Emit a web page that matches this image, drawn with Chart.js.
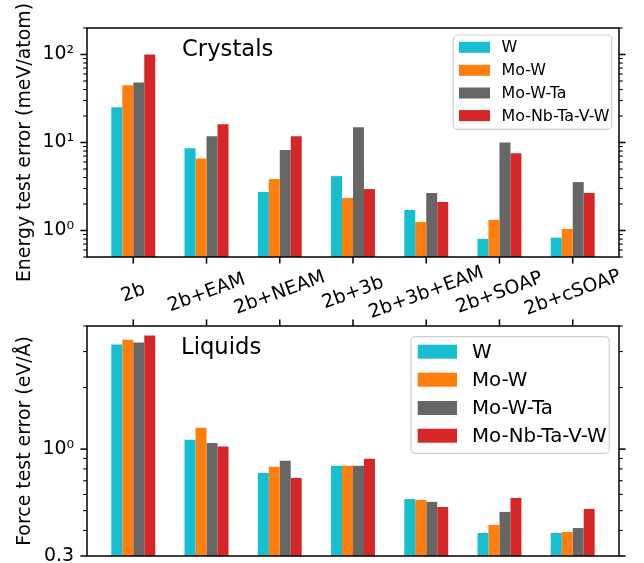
<!DOCTYPE html>
<html><head><meta charset="utf-8">
<script src="https://cdn.jsdelivr.net/npm/chart.js@4.4.0/dist/chart.umd.min.js"></script>
<style>
html,body{margin:0;padding:0;background:#fff;overflow:hidden;width:644px;height:563px;}
canvas{position:absolute;left:0;}
#c1{top:0}
#c2{top:300px}
</style></head><body>
<canvas id="c1" width="644" height="330"></canvas>
<canvas id="c2" width="644" height="280"></canvas>
<script>
// ---- data ----
const categories = ['2b', '2b+EAM', '2b+NEAM', '2b+3b', '2b+3b+EAM', '2b+SOAP', '2b+cSOAP'];
const seriesNames = ['W', 'Mo-W', 'Mo-W-Ta', 'Mo-Nb-Ta-V-W'];
const seriesColors = ['#17becf', '#ff7f0e', '#666666', '#d62728'];

const crystalsW        = [25.1, 8.6, 2.74, 4.15, 1.71, 0.805, 0.83];
const crystalsMoW      = [44.6, 6.6, 3.84, 2.34, 1.25, 1.32, 1.04];
const crystalsMoWTa    = [48.2, 11.8, 8.2, 14.9, 2.67, 10.0, 3.55];
const crystalsMoNbTaVW = [100, 16.1, 11.8, 2.96, 2.11, 7.56, 2.67];

const liquidsW        = [3.25, 1.11, 0.765, 0.828, 0.570, 0.389, 0.389];
const liquidsMoW      = [3.43, 1.27, 0.819, 0.828, 0.564, 0.426, 0.393];
const liquidsMoWTa    = [3.32, 1.07, 0.877, 0.828, 0.552, 0.493, 0.411];
const liquidsMoNbTaVW = [3.59, 1.03, 0.723, 0.897, 0.521, 0.577, 0.510];

const crystalsTickValues = [1, 10, 100];
const crystalsTickLabels = ['10⁰', '10¹', '10²'];
const liquidsTickValues = [0.3, 1];
const liquidsTickLabels = ['0.3', '10⁰'];
const crystalsRange = [0.5, 200];
const liquidsRange = [0.3, 4];

// ---- styling ----
const FONT = '"DejaVu Sans", "Liberation Sans", sans-serif';
const TICK_SIZE = 18.9;

const decoPlugin = {
  id: 'deco',
  afterDatasetsDraw(chart, args, o) {
    const ctx = chart.ctx, a = chart.chartArea, xs = chart.scales.x, ys = chart.scales.y;
    ctx.save();
    ctx.strokeStyle = '#000';
    const line = (x0, y0, x1, y1, w) => { ctx.lineWidth = w; ctx.beginPath(); ctx.moveTo(x0, y0); ctx.lineTo(x1, y1); ctx.stroke(); };
    // frame
    ctx.lineWidth = 1.5;
    ctx.strokeRect(a.left, a.top, a.right - a.left, a.bottom - a.top);
    // y ticks (major + minor, both sides)
    const majors = o.yMajor;
    const minors = [];
    for (let e = Math.floor(Math.log10(ys.min)) ; e <= Math.ceil(Math.log10(ys.max)); e++) {
      for (let m = 1; m < 10; m++) {
        const v = m * Math.pow(10, e);
        if (v >= ys.min * 0.9999 && v <= ys.max * 1.0001 && !majors.some(t => Math.abs(t - v) / v < 1e-6)) minors.push(v);
      }
    }
    majors.forEach(v => { const p = ys.getPixelForValue(v); line(a.left - 6.6, p, a.left, p, 1.5); line(a.right, p, a.right + 6.6, p, 1.5); });
    minors.forEach(v => { const p = ys.getPixelForValue(v); line(a.left - 3.8, p, a.left, p, 1.1); line(a.right, p, a.right + 3.8, p, 1.1); });
    // x ticks
    categories.forEach((c, i) => {
      const p = xs.getPixelForValue(i);
      if (o.xSide === 'bottom') line(p, a.bottom, p, a.bottom + 6.6, 1.5);
      else line(p, a.top - 6.6, p, a.top, 1.5);
    });
    // x labels
    ctx.fillStyle = '#000';
    if (o.xLabels) {
      ctx.font = TICK_SIZE + 'px ' + FONT;
      ctx.textAlign = 'center'; ctx.textBaseline = 'middle';
      categories.forEach((c, i) => {
        const p = xs.getPixelForValue(i);
        ctx.save(); ctx.translate(p, o.xLabelY); ctx.rotate(-20 * Math.PI / 180);
        ctx.fillText(c, 0, 0); ctx.restore();
      });
    }
    // y axis title
    ctx.save();
    ctx.font = TICK_SIZE + 'px ' + FONT;
    ctx.textAlign = 'center'; ctx.textBaseline = 'alphabetic';
    ctx.translate(o.yTitleX, (a.top + a.bottom) / 2); ctx.rotate(-Math.PI / 2);
    ctx.fillText(o.yTitle, 0, 0);
    ctx.restore();
    // panel title
    ctx.font = '22.7px ' + FONT; ctx.textAlign = 'left'; ctx.textBaseline = 'alphabetic';
    ctx.fillText(o.panelTitle, o.panelX, o.panelY);
    // legend
    const L = o.legend;
    ctx.save();
    ctx.beginPath();
    const r = 4, bx = L.x, by = L.y, bw = L.w, bh = L.h;
    ctx.moveTo(bx + r, by); ctx.arcTo(bx + bw, by, bx + bw, by + bh, r); ctx.arcTo(bx + bw, by + bh, bx, by + bh, r);
    ctx.arcTo(bx, by + bh, bx, by, r); ctx.arcTo(bx, by, bx + bw, by, r); ctx.closePath();
    ctx.fillStyle = 'rgba(255,255,255,0.8)'; ctx.fill();
    ctx.strokeStyle = '#d0d0d0'; ctx.lineWidth = 1.2; ctx.stroke();
    ctx.restore();
    ctx.font = L.font + 'px ' + FONT; ctx.textAlign = 'left'; ctx.textBaseline = 'middle';
    chart.data.datasets.forEach((ds, k) => {
      const cy = L.rows[k];
      ctx.fillStyle = ds.backgroundColor;
      ctx.fillRect(L.sx, cy - L.sh / 2, L.sw, L.sh);
      ctx.fillStyle = '#000';
      ctx.fillText(ds.label, L.tx, cy + 1);
    });
    ctx.restore();
  }
};

function makeChart(id, series, range, tickValues, tickLabels, pad, deco) {
  return new Chart(document.getElementById(id), {
    type: 'bar',
    data: {
      datasets: series.map((vals, k) => ({
        label: seriesNames[k],
        data: vals.map((v, i) => ({ x: i, y: v })),
        backgroundColor: seriesColors[k],
        borderWidth: 0,
        categoryPercentage: 0.6,
        barPercentage: 1.0
      }))
    },
    options: {
      responsive: false, animation: false, devicePixelRatio: 1,
      layout: { padding: pad },
      scales: {
        x: { type: 'linear', display: false, min: -0.632, max: categories.length - 1 + 0.632, offset: false },
        y: {
          type: 'logarithmic', min: range[0], max: range[1], position: 'left',
          afterBuildTicks: s => { s.ticks = tickValues.map(v => ({ value: v })); },
          afterFit: s => { s.width = 87; s.paddingTop = 0; s.paddingBottom = 0; },
          grid: { display: false, drawTicks: false },
          border: { display: false },
          ticks: {
            padding: 13, color: '#000', font: { family: FONT, size: TICK_SIZE },
            autoSkip: false,
            callback: (v) => { const i = tickValues.findIndex(t => Math.abs(t - v) < 1e-9); return i >= 0 ? tickLabels[i] : ''; }
          }
        }
      },
      plugins: { legend: { display: false }, tooltip: { enabled: false }, deco }
    },
    plugins: [decoPlugin]
  });
}

makeChart('c1', [crystalsW, crystalsMoW, crystalsMoWTa, crystalsMoNbTaVW], crystalsRange,
  crystalsTickValues, crystalsTickLabels,
  { left: 0, top: 28, right: 25, bottom: 73 },
  { yMajor: crystalsTickValues, xSide: 'bottom', xLabels: true, xLabelY: 293,
    yTitle: 'Energy test error (meV/atom)', yTitleX: 30,
    panelTitle: 'Crystals', panelX: 182, panelY: 56,
    legend: { x: 453.3, y: 35, w: 158.4, h: 94.3, sx: 459, sw: 31, sh: 11, tx: 501.5, font: 15.9, rows: [47.3, 70.3, 93, 115.6] } });

makeChart('c2', [liquidsW, liquidsMoW, liquidsMoWTa, liquidsMoNbTaVW], liquidsRange,
  liquidsTickValues, liquidsTickLabels,
  { left: 0, top: 26, right: 25, bottom: 24 },
  { yMajor: liquidsTickValues, xSide: 'top', xLabels: false,
    yTitle: 'Force test error (eV/Å)', yTitleX: 30,
    panelTitle: 'Liquids', panelX: 181, panelY: 54.3,
    legend: { x: 411, y: 36.7, w: 198.3, h: 116.6, sx: 417.7, sw: 39.3, sh: 14, tx: 472, font: 19.8, rows: [51.7, 79.7, 108, 135.7] } });
</script>
</body></html>
